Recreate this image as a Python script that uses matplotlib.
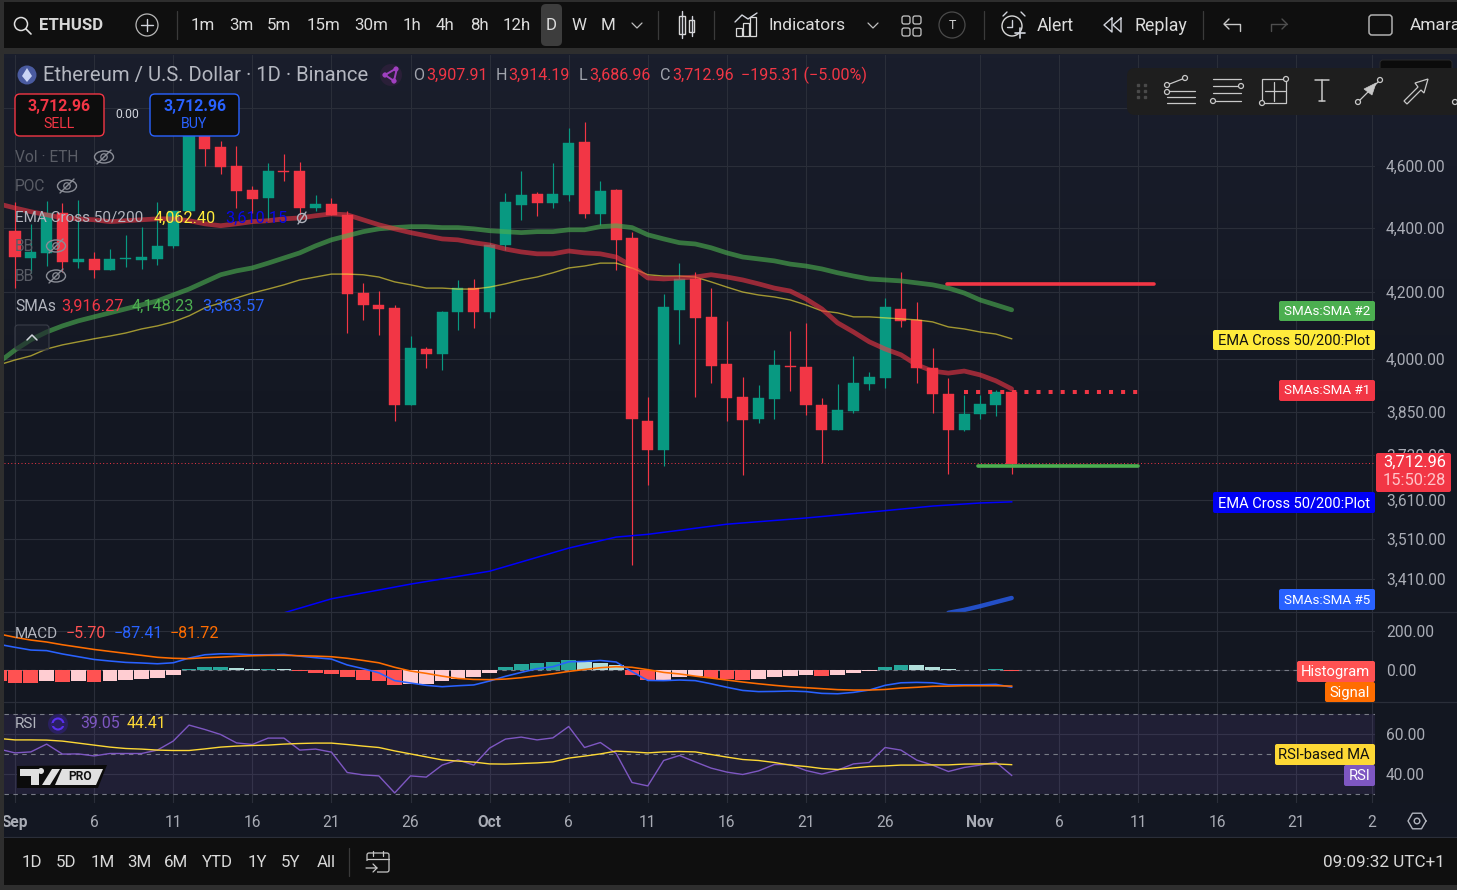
import numpy as np
import matplotlib
matplotlib.use("Agg")
import matplotlib.pyplot as plt
from matplotlib.patches import Rectangle, FancyBboxPatch, Circle, Ellipse, Polygon
from matplotlib.ticker import NullLocator

plt.rcParams['font.family'] = ['Roboto', 'DejaVu Sans']

W, H = 1457, 890

# daily candles, day 0 = 1 Sep
open_ = [4390,4304,4320,4447,4292,4301,4267,4301,4298,4301,4342,4454,4730,4665,4602,4522,4496,4585,4585,4463,
         4476,4441,4196,4160,4151,3869,4029,4014,4139,4211,4139,4345,4473,4509,4479,4506,4682,4444,4522,4367,
         3824,3744,4145,4239,4124,3985,3891,3830,3886,3980,3977,3869,3799,3852,3928,3945,4148,4115,3974,3900,
         3799,3844,3869,3905]
high = [4483,4412,4486,4479,4489,4323,4332,4377,4403,4483,4454,4758,4740,4686,4668,4535,4612,4642,4615,4506,
        4496,4454,4227,4202,4160,4067,4035,4142,4236,4239,4352,4512,4585,4515,4612,4730,4751,4552,4525,4387,
        3891,4193,4288,4261,4211,4112,3948,3925,4026,4082,4106,3888,3928,4009,3962,4181,4261,4169,4032,3945,
        3897,3897,3911,3911]
low = [4211,4258,4279,4261,4273,4242,4267,4276,4270,4282,4336,4454,4602,4575,4463,4447,4425,4552,4441,4454,
       4441,4076,4115,4070,3824,3869,3974,3968,4085,4091,4121,4329,4425,4438,4463,4486,4431,4409,4267,3444,
       3650,3701,4044,3891,3931,3824,3677,3819,3830,3908,3841,3709,3799,3846,3911,3917,4094,3931,3846,3680,
       3796,3830,3838,3680]
close = [4307,4323,4447,4292,4301,4267,4301,4304,4307,4342,4454,4730,4658,4598,4519,4492,4585,4581,4463,4476,
         4441,4193,4160,4148,3869,4032,4014,4139,4211,4139,4345,4483,4506,4479,4509,4679,4444,4519,4361,3830,
         3744,4154,4239,4121,3980,3888,3827,3888,3983,3977,3869,3799,3855,3931,3948,4154,4112,3974,3900,3799,
         3844,3872,3906,3706]

# indicator lines start one day before the first candle (off the left edge)
sma_red = [4476,4463,4451,4441,4431,4428,4425,4419,4422,4425,4428,4428,4422,4412,4406,4412,4419,4422,4428,4431,
           4438,4444,4441,4425,4409,4396,4384,4374,4364,4361,4352,4345,4332,4323,4317,4317,4326,4320,4317,4307,
           4279,4242,4239,4242,4245,4252,4245,4236,4224,4211,4202,4178,4148,4106,4079,4050,4029,4012,3983,3965,
           3959,3965,3954,3937,3914]
sma_green = [3991,4026,4056,4079,4097,4112,4124,4136,4148,4160,4172,4190,4208,4230,4252,4264,4273,4288,4304,4320,
             4342,4361,4374,4387,4396,4400,4403,4403,4400,4400,4396,4390,4387,4384,4387,4387,4393,4393,4403,4406,
             4400,4377,4364,4352,4348,4336,4320,4307,4301,4295,4285,4279,4270,4258,4248,4239,4236,4233,4227,4221,
             4211,4196,4175,4160,4145]
ema_50 = [3983,3997,4009,4029,4041,4050,4059,4067,4076,4088,4097,4109,4127,4151,4166,4181,4196,4208,4221,4236,
          4245,4254,4254,4252,4245,4230,4221,4211,4211,4208,4208,4214,4224,4236,4245,4258,4273,4279,4288,4288,
          4273,4252,4248,4248,4245,4230,4214,4199,4190,4184,4175,4160,4142,4136,4124,4124,4121,4118,4115,4109,
          4094,4088,4079,4073,4059]
ema_200_days = [17,20,25,30,35,38,40,45,50,55,58,61,63]
ema_200 = [3327,3361,3397,3429,3487,3515,3522,3548,3564,3583,3595,3603,3606]
sma_5_days = [59,60,61,62,63]
sma_5 = [3327,3334,3343,3353,3363]

macd_hist = [-55,-65,-66,-56,-60,-58,-61,-54,-51,-46,-41,-25,5,15,15,10,5,7,5,-3,-15,-20,-36,-51,-58,-78,-72,-71,
             -56,-46,-37,-15,15,31,36,41,51,41,36,26,-25,-51,-50,-36,-31,-41,-46,-51,-46,-36,-31,-25,-31,-25,-15,
             -5,15,26,25,15,5,2,1.5,5,-5.7]
macd_line = [131,116,102,99,82,68,54,46,39,36,32,37,61,78,83,82,78,78,80,71,63,56,26,7,-14,-54,-66,-78,-85,-80,-76,
             -56,-32,-12,7,17,42,44,49,41,-8,-53,-54,-51,-54,-70,-88,-104,-110,-109,-107,-110,-119,-121,-114,-102,
             -78,-65,-63,-65,-75,-75,-75,-73,-87.41]
macd_signal = [184,167,153,143,129,117,105,95,85,75,65,60,58,63,66,70,73,75,75,73,71,68,60,49,37,14,-5,-17,-31,-43,
               -48,-49,-46,-39,-29,-19,-7,3,12,17,14,2,-12,-20,-31,-41,-51,-61,-70,-78,-85,-90,-95,-100,-102,-102,
               -99,-92,-88,-83,-82,-80,-80,-80,-81.72]
rsi = [52.2,50.3,50.8,54.7,49.7,49.8,48.8,50,50,50,51.7,56.2,64.2,62,59.5,55.3,54.5,57.7,57.7,51.7,52.2,50.7,40.5,
       39.3,38.8,30.3,38.8,38.2,44.2,46.8,44.2,52.7,57.2,58.2,56.8,57.8,63.5,53,55.5,50,35.5,33.8,46.5,49,45.8,42.7,
       40.7,39.5,41.3,44.5,44.5,41.5,39.7,41.7,44.8,45.5,53,51.7,46.7,44.2,41,43,44.2,45.7,39.05]
rsi_ma = [57.5,56.8,56.8,56.7,56.2,55.2,54.2,53.2,52.5,52.2,51.7,51.5,51.5,52.3,53.2,53.7,54,54.2,54.7,55,55.2,55.2,
          54.5,53.7,53,51.3,49.8,48.3,46.8,46.2,45.7,44.8,44.7,45,45.3,45.8,47.7,48.7,49.8,51.2,50.8,50.3,50.8,51,
          50.8,49.5,48.2,47,46.5,45.5,44.2,43.5,42.5,42,42.8,43.5,43.8,44.2,44.2,44.3,44.3,44.7,44.8,44.8,44.41]

price_ticks = [4800,4600,4400,4200,4000,3850,3730,3610,3510,3410]
price_labels = ['','4,600.00','4,400.00','4,200.00','4,000.00','3,850.00','3,730.00','3,610.00','3,510.00','3,410.00']
date_ticks = [0,5,10,15,20,25,30,35,40,45,50,55,61,66,71,76,81,85.75]
date_labels = ['Sep','6','11','16','21','26','Oct','6','11','16','21','26','Nov','6','11','16','21','2']
month_labels = ['Sep','Oct','Nov']

resistance, pivot, support, last_price = 4224, 3906, 3702, 3709

GRID = '#2a2e39'
TICK = '#a9acb5'
UP, DOWN = '#089981', '#f23645'

fig = plt.figure(figsize=(W/100, H/100), dpi=100, facecolor='#2e2e2e')

def pane(top, bottom, left=4, right=1375):
    ax = fig.add_axes([left/W, 1-bottom/H, (right-left)/W, (bottom-top)/H], zorder=2)
    ax.set_facecolor('none')
    for s in ax.spines.values():
        s.set_visible(False)
    ax.set_xlim((left-15)/15.82, (right-15)/15.82)
    ax.set_xticks(date_ticks)
    ax.tick_params(length=0, labelbottom=False, labelleft=False)
    ax.grid(True, color=GRID, lw=0.8)
    ax.set_axisbelow(True)
    return ax

# background and chrome below the panes
under = fig.add_axes([0, 0, 1, 1], zorder=0)
under.axis('off')
t = np.linspace(0, 1, 200)
grad = np.stack([np.interp(t, [0, .45, 1], c) for c in ([26, 20, 19], [30, 24, 23], [44, 35, 33])], axis=1) / 255
under.imshow(grad[:, None, :], extent=[4, W, 803, 54], aspect='auto', zorder=0)
under.set_xlim(0, W); under.set_ylim(H, 0)
under.add_patch(Rectangle((4, 803), W-4, 34, fc='#131722', ec='none'))

# price pane
ax = pane(55, 612)
ax.set_yscale('log')
ax.set_ylim(3329, 4987)
days = np.arange(64)
for d, o, h, l, c in zip(days, open_, high, low, close):
    col = UP if c >= o else DOWN
    ax.vlines(d, l, h, color=col, lw=0.85, zorder=3)
    ax.bar(d, abs(c-o), bottom=min(o, c), width=0.7, color=col, ec=col, lw=0.3, zorder=3)

line_days = np.arange(-1, 64)
ax.plot(line_days, ema_50, color='#ffeb3b', alpha=0.6, lw=1.0, zorder=4)
ax.plot(line_days, sma_green, color='#4caf50', alpha=0.62, lw=3.4, zorder=4, solid_capstyle='round')
ax.plot(line_days, sma_red, color='#f23645', alpha=0.6, lw=3.4, zorder=4, solid_capstyle='round')
ax.plot(ema_200_days, ema_200, color='#0000ff', lw=1.1, zorder=4)
ax.plot(sma_5_days, sma_5, color='#2962ff', alpha=0.75, lw=3.2, zorder=4, solid_capstyle='round')
ax.plot([58.9, 72], [resistance]*2, color='#f23645', lw=2.6, zorder=4, solid_capstyle='round')
ax.plot([60, 71], [pivot]*2, color='#f23645', lw=2.9, zorder=4, dashes=(1, 2), dash_capstyle='butt')
ax.plot([60.9, 71], [support]*2, color='#4caf50', lw=2.6, zorder=4, solid_capstyle='round')
ax.axhline(last_price, color=DOWN, lw=0.7, ls=(0, (1, 2.5)), zorder=2)
ax.yaxis.tick_right()
ax.set_yticks(price_ticks)
ax.set_yticklabels(price_labels, color=TICK, fontsize=11.2)
ax.tick_params(axis='y', which='both', length=0, right=False, labelright=True, pad=8)
ax.yaxis.set_minor_locator(NullLocator())

# MACD pane
macd = pane(613, 702)
macd.set_ylim(-163, 291)
hist_colors = []
for i, v in enumerate(macd_hist):
    rising = i > 0 and v >= macd_hist[i-1]
    if v >= 0:
        hist_colors.append('#26a69a' if rising else '#b2dfdb')
    else:
        hist_colors.append('#ffcdd2' if rising else '#ff5252')
macd.bar(line_days, macd_hist, width=0.93, color=hist_colors, zorder=3)
macd.axhline(0, color='#787b86', lw=0.8, ls=(0, (4, 4)), zorder=2)
macd.plot(line_days, macd_line, color='#2962ff', lw=1.15, zorder=4)
macd.plot(line_days, macd_signal, color='#ff6d00', lw=1.15, zorder=4)
macd.yaxis.tick_right()
macd.set_yticks([200, 0])
macd.set_yticklabels(['200.00', '0.00'], color=TICK, fontsize=11.2)
macd.tick_params(axis='y', labelright=True, pad=8)

# RSI pane
rs = pane(703, 803)
rs.set_ylim(25.25, 75.25)
rs.axhspan(30, 70, color='#7e57c2', alpha=0.13, lw=0, zorder=1)
for lev in [70, 50, 30]:
    rs.axhline(lev, color='#787b86', lw=0.8, ls=(0, (4, 4)), zorder=2)
rs.plot(line_days, rsi, color='#7e57c2', lw=1.0, zorder=4)
rs.plot(line_days, rsi_ma, color='#fdd835', lw=1.0, zorder=4)
rs.yaxis.tick_right()
rs.set_yticks([60, 40])
rs.set_yticklabels(['60.00', '40.00'], color=TICK, fontsize=11.2)
rs.tick_params(axis='y', labelright=True, pad=8)
rs.tick_params(axis='x', labelbottom=True, pad=8.5)
rs.set_xticklabels(date_labels, color=TICK, fontsize=11.2)
for lab in rs.get_xticklabels():
    if lab.get_text() in month_labels:
        lab.set_fontweight('bold')

# overlay for toolbars, legends, price tags
ui = fig.add_axes([0, 0, 1, 1], zorder=5)
ui.set_xlim(0, W); ui.set_ylim(H, 0); ui.axis('off')

def txt(x, y, s, color='#d1d4dc', size=10.8, ha='left', weight='normal', **kw):
    ui.text(x, y+0.8, s, color=color, fontsize=size, ha=ha, va='center', fontweight=weight, **kw)

def box(x0, y0, x1, y1, fc, ec='none', r=2, lw=1, z=1):
    ui.add_patch(FancyBboxPatch((x0+r, y0+r), x1-x0-2*r, y1-y0-2*r, boxstyle=f'round,pad={r},rounding_size={r}',
                                fc=fc, ec=ec, lw=lw, zorder=z, mutation_aspect=1))

def ln(xs, ys, color='#d1d4dc', lw=1.0, z=3):
    ui.plot(xs, ys, color=color, lw=lw, zorder=z, solid_capstyle='round')

def ring(x, y, r, color='#d1d4dc', lw=0.9, fc='none', z=3):
    ui.add_patch(Circle((x, y), r, fc=fc, ec=color, lw=lw, zorder=z))

def eye(x, y, color='#8a8d96'):
    ui.add_patch(Ellipse((x, y), 19, 12, fc='none', ec=color, lw=1.0, zorder=3))
    ring(x, y, 3.2, color)
    ln([x-7, x+7], [y+7, y-7], color, 1.0)

# separators and frame
for yy in (612, 702, 837):
    ln([4, W], [yy, yy], GRID, 0.9, 1)
ui.add_patch(Rectangle((0, 0), 4, H, fc='#2e2e2e', ec='none', zorder=6))
ui.add_patch(Rectangle((0, 0), W, 2, fc='#2e2e2e', ec='none', zorder=6))

# top toolbar
ui.add_patch(Rectangle((0, 2), W, 46, fc='#0f0f0f', ec='none', zorder=1))
ring(21, 24, 6.5, '#e0e0e0', 1.1)
ln([26, 31], [29, 34], '#e0e0e0', 1.2)
txt(39, 25, 'ETHUSD', '#d8d8d8', 12.1, weight='bold')
ring(147, 25, 11, '#b8b8b8', 0.9)
ln([141, 153], [25, 25]); ln([147, 147], [19, 31])
for xs in (177, 658, 714, 984, 1203):
    ln([xs, xs], [11, 39], '#3a3a3a', 0.9)
box(541, 4, 562, 46, '#3d3d3d', r=5)
for x, s in zip([203,241,279,323,371,412,445,479,517,551,579,608],
                ['1m','3m','5m','15m','30m','1h','4h','8h','12h','D','W','M']):
    txt(x, 25, s, '#dcdcdc', 12.2, ha='center')
ln([632, 637, 642], [23, 28, 23], '#c0c0c0', 0.9)
# candles icon
ui.add_patch(Rectangle((679, 16), 6, 18, fc='none', ec='#d8d8d8', lw=1, zorder=3))
ui.add_patch(Rectangle((689, 20), 5, 12, fc='none', ec='#d8d8d8', lw=1, zorder=3))
ln([682, 682], [11, 38]); ln([691.5, 691.5], [16, 36])
# indicators icon
ln([735, 742, 748, 757], [22, 15, 19, 13])
for bx, bh in ((736, 8), (743, 13), (750, 19)):
    ui.add_patch(Rectangle((bx, 36-bh), 6, bh, fc='none', ec='#d8d8d8', lw=0.9, zorder=3))
txt(769, 25, 'Indicators', '#dcdcdc', 12.5)
ln([868, 873, 878], [23, 28, 23], '#c0c0c0', 0.9)
for gx, gy in ((902, 16), (913, 16), (902, 28), (913, 28)):
    box(gx, gy, gx+8, gy+8, 'none', '#c8c8c8', r=2, lw=0.9)
ring(952, 25, 13, '#4a4a4a', 0.9)
txt(952, 24.5, 'T', '#d0d0d0', 9, ha='center')
# alert icon
ring(1012, 26, 10, '#d8d8d8', 1.0)
ln([1012, 1012, 1007], [20, 27, 27]); ln([1003, 1007], [16, 12]); ln([1021, 1025], [12, 16])
ln([1015, 1025], [33, 33], lw=1.2); ln([1020, 1020], [28, 38], lw=1.2)
txt(1037, 25, 'Alert', '#dcdcdc', 12.8)
ln([1112, 1104, 1112, 1112], [18, 25, 32, 18]); ln([1121, 1113, 1121, 1121], [18, 25, 32, 18])
txt(1134, 25, 'Replay', '#dcdcdc', 12.8)
ln([1224, 1240, 1240], [24, 24, 31], '#c8c8c8'); ln([1229, 1224, 1229], [19, 24, 29], '#c8c8c8')
ln([1287, 1271, 1271], [24, 24, 31], '#4e4e4e'); ln([1282, 1287, 1282], [19, 24, 29], '#4e4e4e')
box(1369, 15, 1392, 35, 'none', '#b0b0b0', r=3, lw=1.1)
txt(1410, 25, 'Amara', '#dcdcdc', 12.5)

# drawing tools panel
box(1380, 60, 1452, 74, '#0b0b0b', '#2a2a2a', r=3, lw=0.7, z=1)
box(1127, 68, 1470, 115, '#1e1e1e', r=8, z=2)
for dx in (1138, 1145):
    for dy in (85, 91, 97):
        ui.plot(dx, dy, 's', ms=1.6, color='#4a4a4a', zorder=3)
IC = '#c8c8c8'
for yy in (91, 97, 103):
    ln([1167, 1195], [yy, yy], IC, 0.9)
ln([1167, 1185], [85, 78], IC, 0.9)
for px, py in ((1185, 78), (1167, 85), (1167, 92)):
    ring(px, py, 2.5, IC, 0.9, '#1e1e1e')
for yy, x0, x1 in ((79, 1213, 1241), (86, 1213, 1238), (93, 1213, 1241), (101, 1216, 1241)):
    ln([x0, x1], [yy, yy], IC, 0.9)
ring(1241, 86, 2.5, IC, 0.9, '#1e1e1e'); ring(1213, 101, 2.5, IC, 0.9, '#1e1e1e')
ui.add_patch(Rectangle((1262, 79), 24, 24, fc='none', ec=IC, lw=0.9, zorder=3))
ln([1274, 1274], [82, 101], IC, 0.9); ln([1265, 1285], [91, 91], IC, 0.9)
ring(1286, 79, 2.5, IC, 0.9, '#1e1e1e'); ring(1262, 103, 2.5, IC, 0.9, '#1e1e1e')
ln([1315, 1329], [80, 80], IC, 1.1); ln([1322, 1322], [80, 101], IC, 1.1); ln([1319, 1325], [101, 101], IC, 1.1)
ln([1358, 1380], [102, 80], IC, 0.9); ring(1358, 102, 2.5, IC, 0.9, '#1e1e1e'); ring(1380, 80, 2.5, IC, 0.9, '#1e1e1e')
ui.add_patch(Polygon([[1376, 83], [1364, 89], [1372, 95]], fc=IC, ec=IC, lw=0.5, zorder=3))
ui.add_patch(Polygon([[1428, 79], [1415, 83], [1418, 87], [1404, 101], [1407, 104], [1421, 90], [1424, 93]],
                     fc='none', ec=IC, lw=0.9, zorder=3))
ring(1455, 102, 2.5, IC, 0.9, '#1e1e1e')

# header line
ring(27, 75, 9.5, '#5566aa', 0, '#4a5ba0')
ui.add_patch(Polygon([[27, 68], [32, 76], [27, 82], [22, 76]], fc='#c9d4f5', ec='none', zorder=4))
txt(43, 75, 'Ethereum / U.S. Dollar · 1D · Binance', '#b4b7c0', 14.6)
ring(391, 75, 11, '#2a1f38', 0, '#2a1f38')
ln([385, 397, 394, 385], [75, 68, 81, 75], '#a040c0', 1.4)
for px, py in ((385, 75), (396, 69), (394, 81)):
    ring(px, py, 2.2, '#a040c0', 0.5, '#a040c0')
for x, s in ((413, 'O'), (496, 'H'), (579, 'L'), (660, 'C')):
    txt(x, 75, s, '#a0a3ac', 11.6)
for x, s in ((426, '3,907.91'), (508, '3,914.19'), (589, '3,686.96'), (672, '3,712.96'), (741, '−195.31 (−5.00%)')):
    txt(x, 75, s, DOWN, 11.6)

# buy / sell
box(15, 94, 104, 136, '#0d0d0d', DOWN, r=5, lw=1.0)
txt(59.5, 106, '3,712.96', DOWN, 11.4, ha='center', weight='bold')
txt(59.5, 123, 'SELL', DOWN, 10.2, ha='center')
txt(127, 114, '0.00', '#d1d4dc', 8.8, ha='center')
box(150, 94, 239, 136, '#0d0d0d', '#2962ff', r=5, lw=1.0)
txt(194.5, 106, '3,712.96', '#2962ff', 11.4, ha='center', weight='bold')
txt(194.5, 123, 'BUY', '#2962ff', 10.2, ha='center')

# legends
DIM = '#5a5d66'
txt(15, 157, 'Vol · ETH', DIM, 11.2); eye(104, 157)
txt(15, 186, 'POC', DIM, 11.2); eye(67, 186)
txt(15, 217, 'EMA Cross 50/200', '#b2b5be', 11)
txt(154, 218, '4,062.40', '#ffeb3b', 11.7)
txt(225, 218, '3,610.15', '#0808e8', 11.7)
ring(302, 218, 4.5, '#b0b3bc', 1.0); ln([298, 306], [224, 212], '#b0b3bc', 1.0)
txt(15, 246, 'BB', DIM, 11.2); eye(56, 246)
txt(15, 276, 'BB', DIM, 11.2); eye(56, 276)
txt(15, 306, 'SMAs', '#b2b5be', 11.2)
txt(61, 306, '3,916.27', DOWN, 11.7)
txt(132, 306, '4,148.23', '#4caf50', 11.7)
txt(202, 306, '3,363.57', '#2962ff', 11.7)
box(15, 325, 49, 350, '#1e222d99', '#3a3e49', r=3, lw=0.8)
ln([27, 32, 37], [340, 335, 340], '#d1d4dc', 1.1)
txt(15, 633, 'MACD', '#b2b5be', 11)
txt(66, 633, '−5.70', '#ff5252', 11.5)
txt(114, 633, '−87.41', '#2962ff', 11.5)
txt(170, 633, '−81.72', '#ff6d00', 11.5)
txt(15, 723, 'RSI', '#b2b5be', 11)
ring(58, 724, 10, '#2a2060', 0, '#2a2060')
ring(58, 724, 5.5, '#5a30f0', 1.5)
ln([52, 64], [724, 724], '#2a2060', 2.2, 4)
txt(80, 723, '39.05', '#7e57c2', 11.4)
txt(127, 723, '44.41', '#fdd835', 11.4)

# TV logo
ui.add_patch(Polygon([[17, 766], [107, 765], [98, 788], [17, 788]], fc='#0b0b0b', ec='none', zorder=3))
ui.add_patch(Polygon([[20, 769], [39, 769], [39, 785], [31, 785], [31, 776], [20, 776]], fc='#e0e0e0', ec='none', zorder=4))
ring(41, 771, 3, '#e0e0e0', 0, '#e0e0e0', 4)
ui.add_patch(Polygon([[52, 769], [60, 769], [50, 785], [42, 785]], fc='#e0e0e0', ec='none', zorder=4))
ui.add_patch(Polygon([[62, 769], [103, 769], [96, 785], [55, 785]], fc='#e0e0e0', ec='none', zorder=4))
txt(80, 776, 'PRO', '#111111', 8.6, ha='center', weight='bold', zorder=5)

# price scale tags
def tag(x0, y0, x1, y1, s, fc, tc='white', size=10.2):
    box(x0, y0, x1, y1, fc, r=2, z=3)
    txt(x1-5, (y0+y1)/2-0.3, s, tc, size, ha='right', zorder=4)

tag(1279, 301, 1375, 321, 'SMAs:SMA #2', '#4caf50', size=9.6)
tag(1213, 330, 1375, 350, 'EMA Cross 50/200:Plot', '#ffeb3b', '#111111', size=10.5)
tag(1279, 380, 1375, 401, 'SMAs:SMA #1', '#f23645', size=9.6)
tag(1213, 492, 1375, 513, 'EMA Cross 50/200:Plot', '#0000f5', size=10.5)
tag(1279, 589, 1375, 610, 'SMAs:SMA #5', '#2962ff', size=9.6)
tag(1297, 661, 1375, 682, 'Histogram', '#ff5252', size=10.6)
tag(1325, 682, 1375, 702, 'Signal', '#ff6d00', size=10.6)
tag(1275, 744, 1375, 765, 'RSI-based MA', '#fdd835', '#111111', size=10.6)
tag(1344, 765, 1375, 786, 'RSI', '#7e57c2', size=10.6)
box(1376, 453, 1451, 492, '#f23645', r=2, z=3)
txt(1446, 462, '3,712.96', 'white', 11.8, ha='right', zorder=4)
txt(1446, 480, '15:50:28', '#ffc4c9', 11.8, ha='right', zorder=4)
# scale settings hexagon
hx = 1417 + 9*np.cos(np.arange(7)*np.pi/3)
hy = 821 + 9*np.sin(np.arange(7)*np.pi/3)
ln(hx, hy, '#b2b5be', 1.0)
ring(1417, 821, 2.8, '#b2b5be', 1.0)

# bottom bar
ui.add_patch(Rectangle((0, 838), W, 47, fc='#0f0f0f', ec='none', zorder=1))
ui.add_patch(Rectangle((0, 885), W, 5, fc='#2e2e2e', ec='none', zorder=2))
for x, s in zip([32,66,103,139,176,217,257,291,326], ['1D','5D','1M','3M','6M','YTD','1Y','5Y','All']):
    txt(x, 861.5, s, '#d8d8d8', 12.2, ha='center')
ln([349, 349], [848, 876], '#3a3a3a', 0.9)
box(367, 853, 389, 872, 'none', '#c8c8c8', r=2, lw=0.9)
ln([367, 389], [859, 859], '#c8c8c8', 0.9)
ln([373, 373], [851, 856], '#c8c8c8', 0.9); ln([383, 383], [851, 856], '#c8c8c8', 0.9)
ui.add_patch(Rectangle((364, 861), 13, 13, fc='#0f0f0f', ec='none', zorder=3))
ln([366, 377, 373], [868, 868, 864], '#c8c8c8', 0.9, 4); ln([373, 377], [872, 868], '#c8c8c8', 0.9, 4)
txt(1445, 861.5, '09:09:32 UTC+1', '#d8d8d8', 12.3, ha='right')

fig.savefig('out.png', dpi=100, facecolor=fig.get_facecolor())
